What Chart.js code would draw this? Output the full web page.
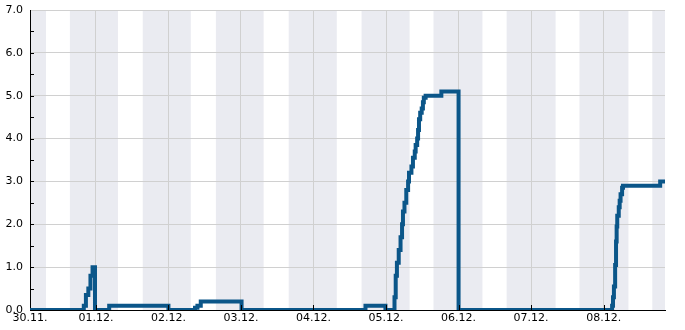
<!DOCTYPE html>
<html>
<head>
<meta charset="utf-8">
<script src="https://cdn.jsdelivr.net/npm/chart.js@4"></script>
<style>
  body { margin: 0; background: #fff; }
  #container { display: block; }
</style>
</head>
<body>
<canvas id="container" width="685" height="330"></canvas>
<script>
// x values are hours since 30.11. 00:00
const xMin = 2.2;
const xMax = 212.3;

const dayTicks = [2.2, 24, 48, 72, 96, 120, 144, 168, 192];
const dayLabels = ["30.11.", "01.12.", "02.12.", "03.12.", "04.12.", "05.12.", "06.12.", "07.12.", "08.12."];
const yTicks = [0, 1, 2, 3, 4, 5, 6, 7];

// shaded (night) bands, start / end in hours
const bandStarts = [2.2, 15.4, 39.5, 63.7, 87.8, 111.9, 135.7, 159.9, 184.0, 208.1];
const bandEnds = [7.5, 31.3, 55.4, 79.5, 103.7, 127.8, 151.9, 176.1, 200.2, 212.3];

// series: each value holds from its hour until the next point
const lineHours = [
  2.2, 20.0, 20.7, 21.5, 22.2, 22.9, 23.7,
  28.4, 48.0,
  56.8, 57.6, 58.7, 72.2,
  113.2, 119.8,
  122.8, 123.2, 123.6, 124.2, 124.8, 125.3, 125.6, 126.1, 126.7, 127.3, 127.6,
  128.4, 128.9, 129.5, 129.8, 130.3, 130.6, 130.9, 131.3, 131.8, 132.2, 132.5, 133.1,
  138.3, 144.0,
  194.8, 195.1, 195.4, 195.8, 196.1, 196.3, 196.5, 197.0, 197.3, 197.6, 198.1, 198.4,
  210.7, 212.3
];
const lineValues = [
  0, 0.1, 0.35, 0.5, 0.8, 1.0, 0,
  0.1, 0,
  0.05, 0.1, 0.2, 0,
  0.1, 0,
  0.3, 0.8, 1.1, 1.4, 1.7, 2.0, 2.3, 2.5, 2.8, 3.0, 3.2,
  3.35, 3.55, 3.7, 3.85, 4.0, 4.2, 4.45, 4.6, 4.7, 4.85, 4.95, 5.0,
  5.1, 0,
  0.1, 0.3, 0.55, 1.05, 1.6, 1.95, 2.2, 2.4, 2.55, 2.7, 2.85, 2.9,
  3.0, 3.0
];

const bandPlugin = {
  id: "bands",
  beforeDraw(chart) {
    const { ctx, chartArea, scales } = chart;
    ctx.save();
    ctx.fillStyle = "#eaebf1";
    for (let i = 0; i < bandStarts.length; i++) {
      const x1 = scales.x.getPixelForValue(bandStarts[i]);
      const x2 = scales.x.getPixelForValue(bandEnds[i]);
      ctx.fillRect(x1, chartArea.top, x2 - x1, chartArea.bottom - chartArea.top);
    }
    ctx.restore();
  },
  afterDraw(chart) {
    // tick marks pointing into the plot
    const { ctx, chartArea, scales } = chart;
    ctx.save();
    ctx.strokeStyle = "#000";
    ctx.lineWidth = 1;
    ctx.beginPath();
    for (let i = 1; i < dayTicks.length; i++) {
      const x = Math.round(scales.x.getPixelForValue(dayTicks[i])) + 0.5;
      ctx.moveTo(x, chartArea.bottom);
      ctx.lineTo(x, chartArea.bottom - 5);
    }
    for (let v = 0.5; v < 7; v += 0.5) {
      const y = Math.round(scales.y.getPixelForValue(v)) + 0.5;
      ctx.moveTo(chartArea.left, y);
      ctx.lineTo(chartArea.left + 4, y);
    }
    ctx.stroke();
    ctx.restore();
  },
};

const ctx = document.getElementById("container");
const myChart = new Chart(ctx, {
  type: "line",
  data: {
    datasets: [
      {
        data: lineHours.map((h, i) => ({ x: h, y: lineValues[i] })),
        borderColor: "#0b5689",
        backgroundColor: "#0b5689",
        borderWidth: 4,
        pointRadius: 0,
        stepped: "before",
        clip: 0,
      },
    ],
  },
  options: {
    responsive: false,
    animation: false,
    layout: { padding: { top: 10, right: 20, left: 0, bottom: 0 } },
    plugins: { legend: { display: false }, tooltip: { enabled: false } },
    scales: {
      x: {
        type: "linear",
        min: xMin,
        max: xMax,
        afterBuildTicks: (scale) => {
          scale.ticks = dayTicks.map((v) => ({ value: v }));
        },
        afterFit: (scale) => {
          scale.height = 20;
          scale.paddingLeft = 0;
          scale.paddingRight = 0;
        },
        ticks: {
          autoSkip: false,
          maxRotation: 0,
          padding: 2,
          color: "#000",
          font: { family: "DejaVu Sans", size: 11 },
          callback: (v) => dayLabels[dayTicks.indexOf(v)],
        },
        grid: { color: "#d0d0d0", drawTicks: false },
        border: { color: "#000", width: 1 },
      },
      y: {
        min: 0,
        max: 7,
        afterBuildTicks: (scale) => {
          scale.ticks = yTicks.map((v) => ({ value: v }));
        },
        afterFit: (scale) => {
          scale.width = 30;
          scale.paddingTop = 0;
          scale.paddingBottom = 0;
        },
        ticks: {
          padding: 7,
          color: "#000",
          font: { family: "DejaVu Sans", size: 11 },
          callback: (v) => v.toFixed(1),
        },
        grid: { color: "#d0d0d0", drawTicks: false },
        border: { color: "#000", width: 1 },
      },
    },
  },
  plugins: [bandPlugin],
});
</script>
</body>
</html>
